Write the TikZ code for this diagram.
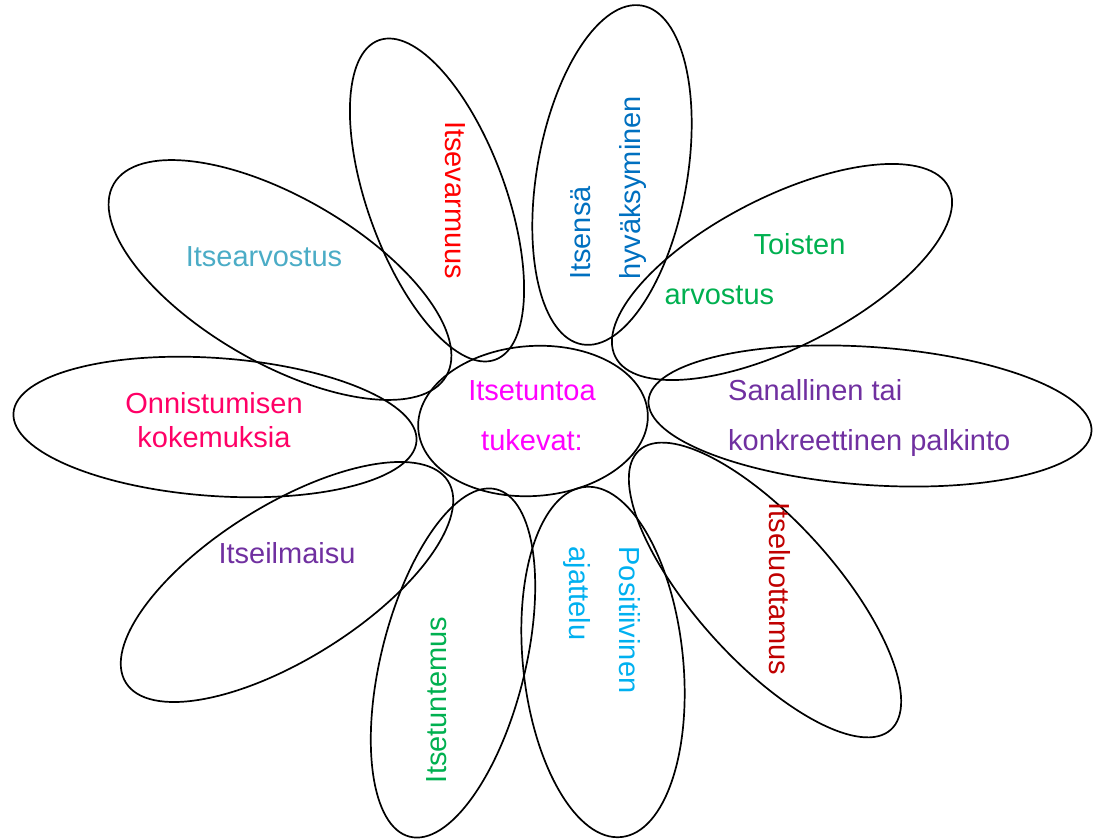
\documentclass[tikz,border=0pt]{standalone}
\usepackage{fontspec}
\setmainfont{Liberation Sans}
\usetikzlibrary{shapes.geometric}

\definecolor{cRed}{HTML}{FF0000}
\definecolor{cBlue}{HTML}{0070C0}
\definecolor{cGreen}{HTML}{00B050}
\definecolor{cPurple}{HTML}{7030A0}
\definecolor{cDarkRed}{HTML}{C00000}
\definecolor{cSky}{HTML}{00B0F0}
\definecolor{cPink}{HTML}{FF0066}
\definecolor{cTeal}{HTML}{4BACC6}
\definecolor{cMagenta}{HTML}{FF00FF}

\begin{document}
\begin{tikzpicture}[x=1pt, y=1pt,
  petal/.style = {draw, ellipse, line width=1.7pt, inner sep=0pt},
  lbl/.style = {inner sep=0pt, font=\fontsize{29}{50}\selectfont}]
  \useasboundingbox (0,0) rectangle (1094,838);

  % petals
  \node[petal, rotate=110, minimum width=340pt, minimum height=138pt] (varmuus) at (437,638) {};
  \node[petal, rotate=80, minimum width=344pt, minimum height=150pt] (hyvaks) at (612,663) {};
  \node[petal, rotate=27, minimum width=374pt, minimum height=150pt] (toisten) at (782,566) {};
  \node[petal, rotate=-4, minimum width=444pt, minimum height=138pt] (palkinto) at (870,422) {};
  \node[petal, rotate=-48, minimum width=376pt, minimum height=140pt] (luottamus) at (765,248) {};
  \node[petal, rotate=96, minimum width=352pt, minimum height=160pt] (ajattelu) at (603,176) {};
  \node[petal, rotate=76, minimum width=358pt, minimum height=144pt] (tuntemus) at (453,175) {};
  \node[petal, rotate=32, minimum width=380pt, minimum height=154pt] (ilmaisu) at (287,256) {};
  \node[petal, rotate=-4, minimum width=404pt, minimum height=138pt] (onnistum) at (215,411) {};
  \node[petal, rotate=-30, minimum width=384pt, minimum height=166pt] (arvostus) at (280,558) {};
  \node[petal, rotate=4, minimum width=230pt, minimum height=150pt] (keski) at (533,417) {};

  % texts
  \node[lbl, cRed, rotate=-90] (tVarmuus) at (455,638) {Itsevarmuus};
  \node[lbl, cBlue, rotate=90, align=left] (tHyvaks) at (609,650) {Itsensä\\hyväksyminen};
  \node[lbl, cGreen, align=left] (tToisten) at (755,569) {\hspace*{89pt}Toisten\\arvostus};
  \node[lbl, cPurple, align=left, anchor=west] (tPalkinto) at (728,420) {Sanallinen tai\\konkreettinen palkinto};
  \node[lbl, cDarkRed, rotate=-90] (tLuottamus) at (780,249) {Itseluottamus};
  \node[lbl, cSky, rotate=-90, align=left] (tAjattelu) at (602,218) {Positiivinen\\ajattelu};
  \node[lbl, cGreen, rotate=90] (tTuntemus) at (437,138) {Itsetuntemus};
  \node[lbl, cPurple] (tIlmaisu) at (287,285) {Itseilmaisu};
  \node[lbl, cPink, align=center, font=\fontsize{29}{34}\selectfont] (tOnnistum) at (214,418) {Onnistumisen\\kokemuksia};
  \node[lbl, cTeal] (tArvostus) at (264,581) {Itsearvostus};
  \node[lbl, cMagenta, align=center] (tKeski) at (532,422) {Itsetuntoa\\tukevat:};
\end{tikzpicture}
\end{document}
